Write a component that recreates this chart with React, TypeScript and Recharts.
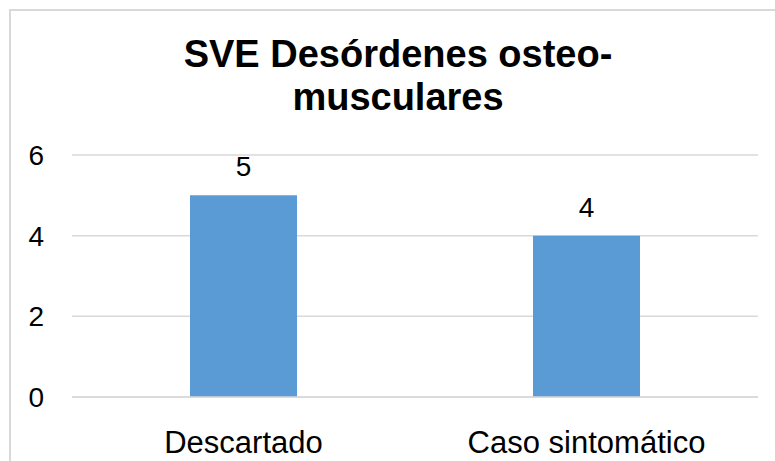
import React from "react";
import { BarChart, Bar, XAxis, YAxis, CartesianGrid, LabelList } from "recharts";

const categories = ["Descartado", "Caso sintomático"];
const values = [5, 4];
const yTicks = [0, 2, 4, 6];
const titleLines = ["SVE Desórdenes osteo-", "musculares"];

const data = categories.map((name, i) => ({ name, value: values[i] }));

const FONT = "'Liberation Sans', Arial, sans-serif";

const YTick = (props: any) => {
  const { y, payload } = props;
  return (
    <text x={44} y={y} dy={10} textAnchor="end" fontSize={28} fill="#000" fontFamily={FONT}>
      {payload.value}
    </text>
  );
};

const XTick = (props: any) => {
  const { x, y, payload } = props;
  return (
    <text x={x} y={y} dy={48} textAnchor="middle" fontSize={31} fill="#000" fontFamily={FONT}>
      {payload.value}
    </text>
  );
};

export default function App() {
  return (
    <div style={{ position: "fixed", left: 0, top: 0, width: 775, height: 461, overflow: "hidden", background: "#fff" }}>
      <div
        style={{
          position: "absolute",
          left: 9,
          top: 9,
          width: 800,
          height: 500,
          border: "2px solid #d9d9d9",
          boxSizing: "border-box",
        }}
      />
      <svg width={775} height={140} style={{ position: "absolute", left: 0, top: 0 }}>
        {titleLines.map((t, i) => (
          <text
            key={i}
            x={398}
            y={67 + i * 43}
            textAnchor="middle"
            fontSize={38}
            fontWeight="bold"
            fill="#000"
            fontFamily={FONT}
          >
            {t}
          </text>
        ))}
      </svg>
      <div style={{ position: "absolute", left: 0, top: 0 }}>
        <BarChart
          width={775}
          height={461}
          data={data}
          margin={{ top: 155, right: 17, bottom: 0, left: 0 }}
        >
          <CartesianGrid vertical={false} stroke="#d9d9d9" strokeWidth={1.5} />
          <XAxis
            dataKey="name"
            axisLine={{ stroke: "#d9d9d9", strokeWidth: 1.5 }}
            tickLine={false}
            tick={<XTick />}
            height={64}
            interval={0}
          />
          <YAxis
            domain={[0, 6]}
            ticks={yTicks}
            axisLine={false}
            tickLine={false}
            tick={<YTick />}
            width={72}
          />
          <Bar dataKey="value" fill="#5B9BD5" barSize={107} isAnimationActive={false}>
            <LabelList dataKey="value" position="top" offset={19} fontSize={28} fill="#000" fontFamily={FONT} />
          </Bar>
        </BarChart>
      </div>
    </div>
  );
}
